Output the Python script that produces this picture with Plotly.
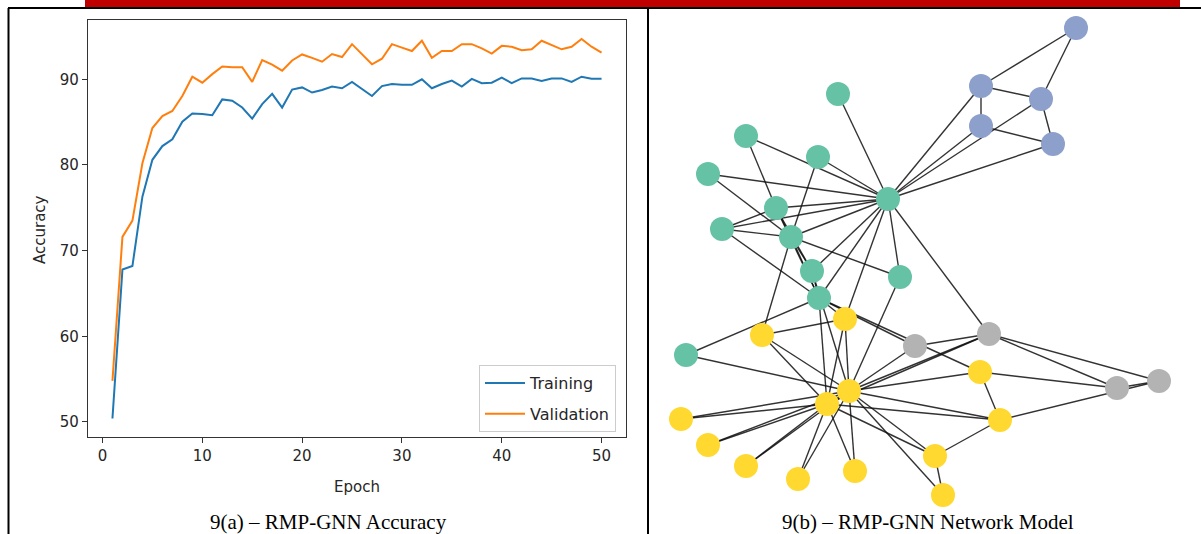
import plotly.graph_objects as go

W, H = 1201, 534

# ---------------- Accuracy data (left panel) ----------------
epochs = list(range(1, 51))
training = [50.4, 67.8, 68.2, 76.3, 80.6, 82.2, 83.0, 85.05, 86.0, 85.95,
            85.8, 87.65, 87.5, 86.7, 85.4, 87.1, 88.3, 86.7, 88.8, 89.05,
            88.45, 88.75, 89.15, 88.95, 89.7, 88.9, 88.05, 89.2, 89.45, 89.35,
            89.35, 90.0, 88.95, 89.45, 89.85, 89.15, 90.05, 89.55, 89.6, 90.2,
            89.55, 90.1, 90.1, 89.8, 90.1, 90.1, 89.7, 90.3, 90.05, 90.05]
validation = [54.8, 71.6, 73.5, 80.2, 84.3, 85.7, 86.3, 88.05, 90.3, 89.6,
              90.6, 91.5, 91.4, 91.4, 89.7, 92.25, 91.7, 91.0, 92.2, 92.9,
              92.5, 92.05, 92.95, 92.6, 94.1, 92.9, 91.75, 92.4, 94.1, 93.7,
              93.3, 94.5, 92.5, 93.3, 93.3, 94.1, 94.1, 93.6, 93.0, 93.9,
              93.8, 93.4, 93.5, 94.5, 94.0, 93.5, 93.8, 94.7, 93.8, 93.1]
x_ticks = [0, 10, 20, 30, 40, 50]
y_ticks = [50, 60, 70, 80, 90]

# ---------------- Network data (right panel, karate club) ----------------
node_x = [888, 791, 819, 776, 981, 1041, 981, 722, 845, 686,
          1053, 838, 746, 812, 681, 708, 1076, 708, 746, 900,
          798, 818, 855, 1000, 1117, 1159, 943, 980, 915, 935,
          762, 989, 827, 849]
node_y = [199, 237, 298, 208, 126, 99, 86, 229, 319, 355,
          144, 94, 136, 271, 419, 445, 28, 174, 466, 277,
          479, 157, 471, 420, 388, 381, 495, 372, 346, 456,
          335, 334, 404, 391]
community = [0, 0, 0, 0, 1, 1, 1, 0, 2, 0,
             1, 0, 0, 0, 2, 2, 1, 0, 2, 0,
             2, 0, 2, 2, 3, 3, 2, 2, 3, 2,
             2, 3, 2, 2]
community_colors = ["#66c2a5", "#8da0cb", "#ffd92f", "#b3b3b3"]
edges = [(0, 1), (0, 2), (0, 3), (0, 4), (0, 5), (0, 6), (0, 7), (0, 8), (0, 10),
         (0, 11), (0, 12), (0, 13), (0, 17), (0, 19), (0, 21), (0, 31),
         (1, 2), (1, 3), (1, 7), (1, 13), (1, 17), (1, 19), (1, 21), (1, 30),
         (2, 3), (2, 7), (2, 8), (2, 9), (2, 13), (2, 27), (2, 28), (2, 32),
         (3, 7), (3, 12), (3, 13), (4, 6), (4, 10), (5, 6), (5, 10), (5, 16),
         (6, 16), (8, 30), (8, 32), (8, 33), (9, 33), (13, 33), (14, 32), (14, 33),
         (15, 32), (15, 33), (18, 32), (18, 33), (19, 33), (20, 32), (20, 33),
         (22, 32), (22, 33), (23, 25), (23, 27), (23, 29), (23, 32), (23, 33),
         (24, 25), (24, 27), (24, 31), (25, 31), (26, 29), (26, 33), (27, 33),
         (28, 31), (28, 33), (29, 32), (29, 33), (30, 32), (30, 33), (31, 32),
         (31, 33), (32, 33)]

captions = ["9(a) – RMP-GNN Accuracy", "9(b) – RMP-GNN Network Model"]


def px(x):
    return x / W


def py(y):
    return 1 - y / H


fig = go.Figure()

# Left panel lines
fig.add_trace(go.Scatter(x=epochs, y=training, mode="lines", name="Training",
                         legendgroup="t",
                         line=dict(color="#1f77b4", width=2), xaxis="x", yaxis="y"))
fig.add_trace(go.Scatter(x=epochs, y=validation, mode="lines", name="Validation",
                         legendgroup="v",
                         line=dict(color="#ff7f0e", width=2), xaxis="x", yaxis="y"))

# Network edges
ex, ey = [], []
for a, b in edges:
    ex += [node_x[a], node_x[b], None]
    ey += [node_y[a], node_y[b], None]
fig.add_trace(go.Scatter(x=ex, y=ey, mode="lines", showlegend=False, hoverinfo="skip",
                         line=dict(color="rgba(15,15,15,0.85)", width=1.4),
                         xaxis="x2", yaxis="y2"))
fig.add_trace(go.Scatter(x=node_x, y=node_y, mode="markers", showlegend=False,
                         marker=dict(size=24, color=[community_colors[c] for c in community],
                                     line=dict(width=0)),
                         xaxis="x2", yaxis="y2"))

axis_font = dict(family="DejaVu Sans", size=15, color="#262626")

fig.update_layout(
    width=W, height=H,
    margin=dict(l=0, r=0, t=0, b=0),
    paper_bgcolor="white", plot_bgcolor="rgba(0,0,0,0)",
    showlegend=True,
    xaxis=dict(domain=[px(88), px(626)], range=[-1.45, 52.45], tickvals=x_ticks,
               ticks="outside", ticklen=5, tickcolor="#333", showline=True, mirror=True,
               linecolor="#333", linewidth=1.2, showgrid=False, zeroline=False,
               tickfont=axis_font, anchor="y"),
    yaxis=dict(domain=[py(437), py(20)], range=[48.24, 96.92], tickvals=y_ticks,
               ticks="outside", ticklen=5, tickcolor="#333", showline=True, mirror=True,
               linecolor="#333", linewidth=1.2, showgrid=False, zeroline=False,
               tickfont=axis_font, anchor="x"),
    xaxis2=dict(domain=[px(650), 1], range=[650, W], visible=False, anchor="y2"),
    yaxis2=dict(domain=[0, 1], range=[H, 0], visible=False, anchor="x2"),
    legend=dict(x=px(616), xanchor="right", y=py(365), yanchor="top",
                bgcolor="white", bordercolor="#cccccc", borderwidth=1,
                font=dict(family="DejaVu Sans", size=16, color="#262626"),
                itemwidth=40, tracegroupgap=7, traceorder="grouped"),
)

annotations = [
    dict(text="Epoch", x=px(357), y=py(487), xref="paper", yref="paper",
         xanchor="center", yanchor="middle", showarrow=False, font=axis_font),
    dict(text="Accuracy", x=px(40), y=py(230), xref="paper", yref="paper",
         xanchor="center", yanchor="middle",
         showarrow=False, textangle=-90, font=axis_font),
    dict(text=captions[0], x=px(328), y=py(522), xref="paper", yref="paper",
         xanchor="center", yanchor="middle",
         showarrow=False, font=dict(family="Liberation Serif", size=21, color="black")),
    dict(text=captions[1], x=px(928), y=py(522), xref="paper", yref="paper",
         xanchor="center", yanchor="middle",
         showarrow=False, font=dict(family="Liberation Serif", size=21, color="black")),
]
fig.update_layout(annotations=annotations)

shapes = [
    dict(type="rect", xref="paper", yref="paper", x0=px(85), x1=px(1180), y0=py(7), y1=py(0),
         fillcolor="#c00000", line=dict(width=0)),
    dict(type="line", xref="paper", yref="paper", x0=px(8), x1=1, y0=py(8), y1=py(8),
         line=dict(color="black", width=2)),
    dict(type="line", xref="paper", yref="paper", x0=px(8.5), x1=px(8.5), y0=py(8), y1=0,
         line=dict(color="black", width=2)),
    dict(type="line", xref="paper", yref="paper", x0=px(648), x1=px(648), y0=py(8), y1=0,
         line=dict(color="black", width=2)),
]
fig.update_layout(shapes=shapes)

fig.write_html("out.html")
